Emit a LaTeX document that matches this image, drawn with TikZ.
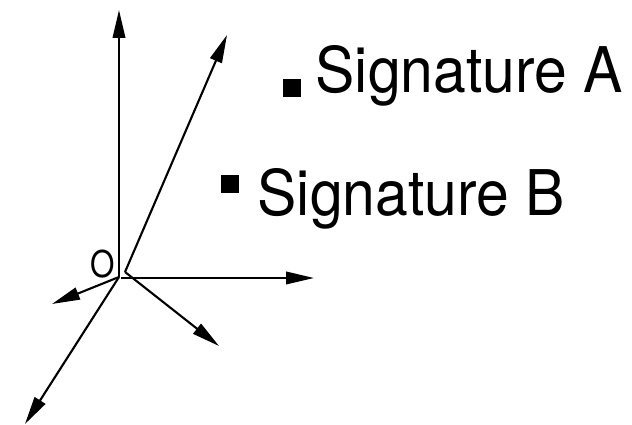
\documentclass[tikz,border=0pt]{standalone}
\usepackage{fontspec}
\setmainfont{TeX Gyre Heros}
\usetikzlibrary{arrows.meta}

\tikzset{
  axis/.style={line width=0.6pt, -{Triangle[length=0.28cm,width=0.125cm]}},
  marker/.style={fill=black, inner sep=0pt, minimum size=0.175cm},
  sigtext/.style={anchor=base west, inner sep=0pt, yscale=1.07, font=\fontsize{16.75}{20}\selectfont}
}

\begin{document}
\begin{tikzpicture}
  \useasboundingbox (0,0) rectangle (6.32,4.25);

  \coordinate (origin) at (1.19,1.48);
  \coordinate (originright) at (1.21,1.47);
  \coordinate (originup) at (1.25,1.53);
  \coordinate (tipup) at (1.19,4.15);
  \coordinate (tipslant) at (2.27,3.90);
  \coordinate (tipright) at (3.14,1.47);
  \coordinate (tipleft) at (0.52,1.21);
  \coordinate (tipdown) at (2.19,0.79);
  \coordinate (tipfar) at (0.25,0.01);

  \draw[axis] (origin) -- (tipup);
  \draw[axis] (originup) -- (tipslant);
  \draw[axis] (originright) -- (tipright);
  \draw[axis] (origin) -- (tipleft);
  \draw[axis] (originup) -- (tipdown);
  \draw[axis] (origin) -- (tipfar);

  \node[inner sep=0pt, xscale=0.85, font=\fontsize{10.5}{12}\selectfont] (originlabel) at (1.03,1.605) {O};

  \node[marker] (markera) at (2.92,3.37) {};
  \node[marker] (markerb) at (2.30,2.41) {};
  \node[sigtext] (siga) at (3.15,3.323) {Signature A};
  \node[sigtext] (sigb) at (2.57,2.095) {Signature B};
\end{tikzpicture}
\end{document}
